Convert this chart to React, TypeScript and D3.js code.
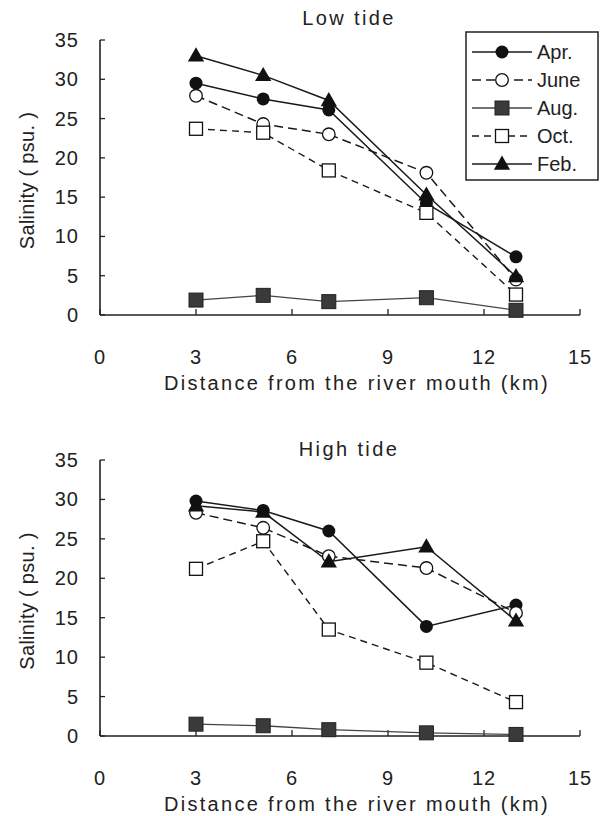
import React from 'react';
import * as d3 from 'd3';

const W = 604, H = 816;
const FONT = '"Liberation Sans", Arial, sans-serif';

// distance along the river (km) of the 5 stations
const DIST = [3, 5.1, 7.15, 10.2, 13];
const X_TICKS = [0, 3, 6, 9, 12, 15];
const Y_TICKS = [0, 5, 10, 15, 20, 25, 30, 35];

const MONTHS = ['Apr.', 'June', 'Aug.', 'Oct.', 'Feb.'];

// low tide salinity (psu)
const LOW_APR = [29.5, 27.5, 26.1, 14.2, 7.4];
const LOW_JUNE = [27.9, 24.3, 23.0, 18.1, 4.5];
const LOW_AUG = [1.9, 2.5, 1.7, 2.2, 0.6];
const LOW_OCT = [23.7, 23.2, 18.4, 13.0, 2.6];
const LOW_FEB = [33.0, 30.5, 27.3, 15.3, 4.9];

// high tide salinity (psu)
const HIGH_APR = [29.8, 28.6, 26.0, 13.9, 16.6];
const HIGH_JUNE = [28.3, 26.4, 22.8, 21.3, 15.6];
const HIGH_AUG = [1.5, 1.3, 0.8, 0.4, 0.2];
const HIGH_OCT = [21.2, 24.7, 13.5, 9.3, 4.3];
const HIGH_FEB = [29.2, 28.4, 22.1, 24.0, 14.6];

type Style = { dash: string; stroke: string; width: number; marker: string };
const STYLES: Style[] = [
  { dash: '', stroke: '#1a1a1a', width: 1.5, marker: 'dot' },
  { dash: '9,5', stroke: '#1a1a1a', width: 1.5, marker: 'ring' },
  { dash: '', stroke: '#444', width: 1.3, marker: 'sq' },
  { dash: '7,5', stroke: '#1a1a1a', width: 1.4, marker: 'box' },
  { dash: '', stroke: '#1a1a1a', width: 1.5, marker: 'tri' },
];

const X0 = 100, X1 = 580;

function Marker({ kind, x, y }: { kind: string; x: number; y: number }) {
  if (kind === 'dot') return <circle cx={x} cy={y} r={6.5} fill="#111" />;
  if (kind === 'ring') return <circle cx={x} cy={y} r={6.3} fill="#fff" stroke="#111" strokeWidth={1.3} />;
  if (kind === 'sq') return <rect x={x - 7} y={y - 7} width={14} height={14} fill="#3a3a3a" stroke="#222" strokeWidth={1} />;
  if (kind === 'box') return <rect x={x - 6.5} y={y - 6.5} width={13} height={13} fill="#fff" stroke="#111" strokeWidth={1.3} />;
  const s = d3.symbol(d3.symbolTriangle, 115)();
  return <path d={s || ''} transform={`translate(${x},${y + 1})`} fill="#111" />;
}

function Panel({ title, titleY, top, bottom, series, legend }: {
  title: string; titleY: number; top: number; bottom: number; series: number[][]; legend?: boolean;
}) {
  const x = d3.scaleLinear().domain([0, 15]).range([X0, X1]);
  const y = d3.scaleLinear().domain([0, 35]).range([bottom, top]);
  const line = d3.line<number>().x((_, i) => x(DIST[i])).y(d => y(d));
  const txt = { fontFamily: FONT, fill: '#222' } as const;

  return (
    <g>
      <text x={349} y={titleY} dy="0.35em" textAnchor="middle" fontSize={20} letterSpacing={2.4} {...txt}>{title}</text>
      {/* axes */}
      <line x1={X0} x2={X0} y1={y(35)} y2={y(0)} stroke="#222" strokeWidth={1.6} />
      <line x1={X0} x2={X1} y1={y(0)} y2={y(0)} stroke="#222" strokeWidth={1.6} />
      {Y_TICKS.map(t => (
        <g key={'y' + t}>
          <line x1={X0} x2={X0 + 5} y1={y(t)} y2={y(t)} stroke="#222" strokeWidth={1.3} />
          <text x={79} y={y(t)} dy="0.35em" textAnchor="end" fontSize={20} letterSpacing={1} {...txt}>{t}</text>
        </g>
      ))}
      {X_TICKS.map(t => (
        <g key={'x' + t}>
          <line x1={x(t)} x2={x(t)} y1={y(0)} y2={y(0) - 6} stroke="#222" strokeWidth={1.3} />
          <text x={x(t)} y={y(0) + 42} dy="0.35em" textAnchor="middle" fontSize={20} letterSpacing={1} {...txt}>{t}</text>
        </g>
      ))}
      <text x={357} y={y(0) + 68} dy="0.35em" textAnchor="middle" fontSize={20} letterSpacing={2.3} {...txt}>
        Distance from the river mouth (km)
      </text>
      <text transform={`translate(27,${(y(0) + y(35)) / 2 + 3}) rotate(-90)`} dy="0.35em" textAnchor="middle"
        fontSize={20} letterSpacing={0.3} {...txt}>Salinity ( psu. )</text>

      {/* series */}
      {series.map((vals, si) => (
        <path key={'l' + si} d={line(vals) || ''} fill="none" stroke={STYLES[si].stroke}
          strokeWidth={STYLES[si].width} strokeDasharray={STYLES[si].dash} />
      ))}
      {series.map((vals, si) => vals.map((v, i) => (
        <Marker key={`m${si}-${i}`} kind={STYLES[si].marker} x={x(DIST[i])} y={y(v)} />
      )))}

      {legend && (
        <g>
          <rect x={466} y={32} width={132} height={148} fill="#fff" stroke="#222" strokeWidth={1.5} />
          {MONTHS.map((m, i) => {
            const ly = 52 + i * 28;
            return (
              <g key={m}>
                <line x1={472} x2={532} y1={ly} y2={ly} stroke={STYLES[i].stroke}
                  strokeWidth={STYLES[i].width} strokeDasharray={STYLES[i].dash} />
                <Marker kind={STYLES[i].marker} x={502} y={ly} />
                <text x={537} y={ly} dy="0.35em" fontSize={20} {...txt}>{m}</text>
              </g>
            );
          })}
        </g>
      )}
    </g>
  );
}

export default function App() {
  return (
    <div style={{ position: 'absolute', left: 0, top: 0 }}>
      <svg width={W} height={H} style={{ display: 'block', background: '#fff' }}>
        <Panel title="Low tide" titleY={18} top={40} bottom={315}
          series={[LOW_APR, LOW_JUNE, LOW_AUG, LOW_OCT, LOW_FEB]} legend />
        <Panel title="High tide" titleY={449} top={460} bottom={736}
          series={[HIGH_APR, HIGH_JUNE, HIGH_AUG, HIGH_OCT, HIGH_FEB]} />
      </svg>
    </div>
  );
}
